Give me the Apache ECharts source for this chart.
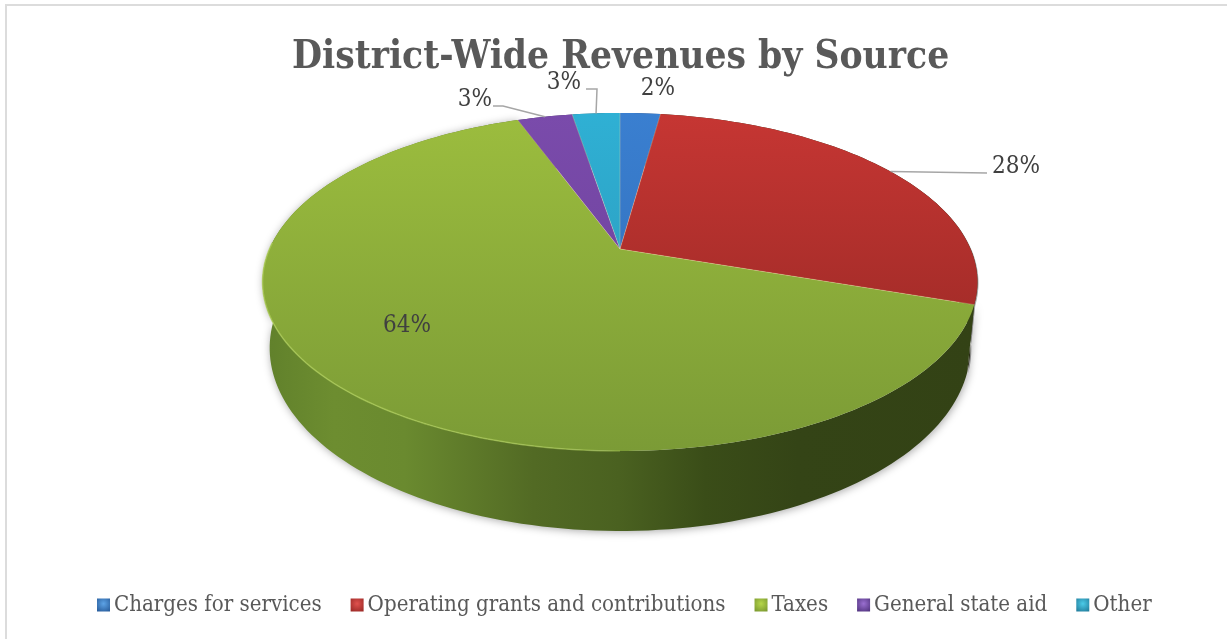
<!DOCTYPE html>
<html>
<head>
<meta charset="utf-8">
<style>html,body{margin:0;padding:0;background:#fff}#c{width:1227px;height:639px}</style>
<script src="https://cdn.jsdelivr.net/npm/echarts@6/dist/echarts.min.js"></script>
</head>
<body>
<div id="c"></div>
<script>
const titleText = 'District-Wide Revenues by Source';
const categories = ['Charges for services','Operating grants and contributions','Taxes','General state aid','Other'];
const values = [2.2, 28.0, 64.2, 3.0, 2.6];
const topColors = [['#3a7fd0','#2f6ab4'],['#c63633','#8f2622'],['#9cbd3e','#7b9b36'],['#7a4bab','#6a3f98'],['#2fb0d4','#2a93b4']];
const legendColors = [['#5da3e6','#2a5f9e'],['#e0524e','#9c2a27'],['#b6d64a','#7c9a30'],['#9a6fd0','#543682'],['#4ccbe8','#237f9e']];
const sideStops = [
  [[0,'#1f4477'],[1,'#1f4477']],
  [[0,'#33351a'],[1,'#33351a']],
  [[0,'#60802b'],[0.1,'#6d8d30'],[0.2,'#6a8a2f'],[0.38,'#526a24'],[0.5,'#4a6120'],[0.62,'#3a4d18'],[0.75,'#344416'],[1,'#334215']],
  [[0,'#3f2a5c'],[1,'#3f2a5c']],
  [[0,'#1c5f74'],[1,'#1c5f74']]
];
const SERIF = '"DejaVu Serif Condensed","Liberation Serif",serif';

// projection of the tilted disc
const CX = 620, APEX_Y = 249, TOP_Y = 113, BOT_Y = 451, K = 350.6;
const persp = (TOP_Y + BOT_Y - 2*APEX_Y) / (TOP_Y - BOT_Y);
const A = BOT_Y*(1+persp) - APEX_Y;
function project(frac){
  const t = frac*2*Math.PI, u = Math.sin(t), v = -Math.cos(t), d = 1 + persp*v;
  return [CX + K*u/d, (A*v + APEX_Y)/d];
}
function lower(p){
  return [CX + (p[0]-CX)*0.98, p[1] + 66 + (p[1]-282)/169*14];
}
const total = values.reduce((a,b)=>a+b,0);
const starts = [];
values.reduce((acc,v,i)=>{starts[i]=acc;return acc+v/total;},0);

const LG = (x0,y0,x1,y1,stops)=>new echarts.graphic.LinearGradient(x0,y0,x1,y1,stops.map(s=>({offset:s[0],color:s[1]})),true);

function arc(i,step){
  const a = starts[i], b = a + values[i]/total, n = Math.max(2,Math.ceil((b-a)/step)), pts=[];
  for(let k=0;k<=n;k++) pts.push(project(a+(b-a)*k/n));
  return pts;
}
function renderSide(params){
  const i = params.seriesIndex - categories.length;
  const up = arc(i,0.004), low = up.map(lower).reverse();
  return {type:'polygon',shape:{points:up.concat(low)},
    style:{fill:LG(262,0,977,0,sideStops[i]),shadowBlur:i===2?8:0,shadowColor:'rgba(0,0,0,0.35)',shadowOffsetX:1,shadowOffsetY:1}};
}
// label text anchors and leader elbows, by category index
const labelAt = [[658,88,null],[1016,166,[[987,173]]],[407,325,null],[475,99,[[493,106],[503,106]]],[564,82,[[586,89],[597,89]]]];
function renderTop(params){
  const i = params.seriesIndex;
  const mid = starts[i] + values[i]/total/2;
  const edge = arc(i,0.004);
  const pts = [[CX,APEX_Y]].concat(edge);
  const kids = [{type:'polygon',z2:1,shape:{points:pts},
    style:{fill:LG(0,TOP_Y,0,BOT_Y,[[0,topColors[i][0]],[1,topColors[i][1]]])}},
    {type:'polyline',z2:2,shape:{points:[edge[0],[CX,APEX_Y],edge[edge.length-1]]},
    style:{fill:'none',stroke:'rgba(255,225,170,0.16)',lineWidth:1}}];
  if(values[i]===Math.max(...values)){
    const front = [];
    for(let f=0.5;f<=0.76;f+=0.004) front.push(project(f));
    kids.push({type:'polyline',z2:2,shape:{points:front},style:{fill:'none',lineWidth:1.5,
      stroke:LG(262,0,700,0,[[0,'rgba(176,208,90,0.7)'],[0.7,'rgba(176,208,90,0.6)'],[1,'rgba(176,208,90,0)']])}});
  }
  const L = labelAt[i];
  if(L[2]){
    kids.push({type:'polyline',z2:3,shape:{points:L[2].concat([project(mid)])},style:{fill:'none',stroke:'#a6a6a6',lineWidth:1.5}});
  }
  kids.push({type:'text',z2:4,style:{x:L[0],y:L[1]+1,text:Math.round(values[i]/total*100)+'%',align:'center',verticalAlign:'middle',
    font:'24px '+SERIF,fill:'#404040'}});
  return {type:'group',children:kids};
}
const topSeries = categories.map((name,i)=>({type:'custom',name,coordinateSystem:'none',z:5,silent:true,animation:false,clip:false,data:[[values[i]]],renderItem:renderTop}));
const sideSeries = categories.map((name,i)=>({type:'custom',name,coordinateSystem:'none',z:2,silent:true,animation:false,clip:false,data:[[values[i]]],renderItem:renderSide}));

const chart = echarts.init(document.getElementById('c'),null,{renderer:'canvas'});
chart.setOption({
  backgroundColor:'#fff',
  animation:false,
  title:{text:titleText,left:292,top:38,padding:0,itemGap:0,textStyle:{fontFamily:SERIF,fontWeight:'bold',fontSize:38.5,color:'#595959'}},
  legend:{top:594,left:97,padding:0,itemWidth:13,itemHeight:13,itemGap:29,icon:'rect',selectedMode:false,
    textStyle:{fontFamily:SERIF,fontSize:22.1,color:'#595959',padding:[0,0,0,-1]},
    data:categories.map((name,i)=>({name,itemStyle:{color:new echarts.graphic.RadialGradient(0.5,0.4,0.7,[{offset:0,color:legendColors[i][0]},{offset:1,color:legendColors[i][1]}])}}))},
  graphic:[{type:'polyline',z:0,shape:{points:[[6,639],[6,5],[1227,5]]},style:{fill:'none',stroke:'#dcdcdc',lineWidth:2}}],
  series:topSeries.concat(sideSeries)
});
</script>
</body>
</html>
